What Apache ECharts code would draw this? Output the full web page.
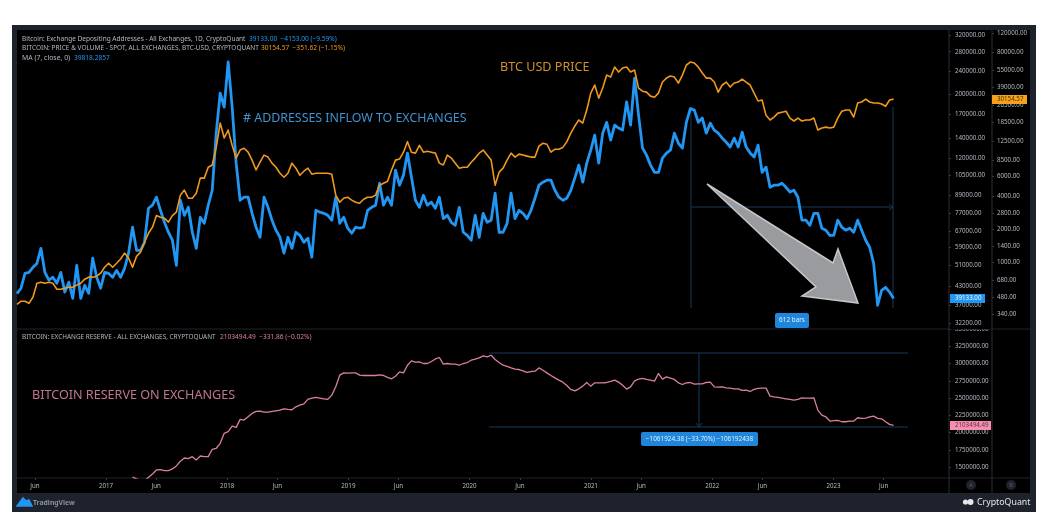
<!DOCTYPE html>
<html lang="en">

<head>
    <meta charset="UTF-8">
    <title>Bitcoin exchange addresses, price and reserve</title>
    <script src="https://cdn.jsdelivr.net/npm/echarts@6/dist/echarts.min.js"></script>
    <style>
        html, body { margin: 0; padding: 0; background: #fff; }
        /* the source is a soft, downscaled screenshot */
        #main { filter: blur(0.4px); }
    </style>
</head>

<body>
    <div id="main" style="width: 1053px;height:526px;"></div>
    <script type="text/javascript">
        // one sample every 12 days from the first bar on the left
        const firstDate = '2016-04-08';
        const lastDate = '2023-12-15';
        const stepDays = 12;
        const reserveOffset = 29; // reserve line only comes into view here

        const addresses = [
            40700, 42500, 47800, 48200, 50200, 51800, 58400, 48200, 45300, 46400, 44200, 48200, 41200, 44600, 39200, 51000, 39200, 43500, 40800, 54000,
            46400, 42500, 48200, 47800, 46400, 49000, 46400, 49800, 56200, 69100, 57500, 57500, 61300, 80400, 82400, 87800, 79100, 71900, 66400, 62300,
            51000, 85700, 76000, 81000, 66400, 58400, 74800, 71300, 82400, 92800, 146300, 201400, 180000, 258000, 180000, 115200, 85700, 87800, 87800, 77200,
            69100, 63800, 87800, 81000, 73100, 67500, 63800, 56200, 63800, 58400, 66400, 64800, 61300, 63300, 54400, 79100, 77900, 77200, 76000, 73100,
            87800, 71300, 74800, 68600, 65900, 69100, 68600, 69100, 79100, 81000, 82400, 98200, 82400, 87800, 82400, 108900, 96600, 104700, 124800, 103000,
            85700, 81000, 89200, 82400, 84400, 80400, 87800, 74000, 76000, 71900, 70200, 81000, 66400, 64800, 62300, 76000, 63800, 77200, 71900, 73100,
            90700, 66400, 66400, 71300, 90700, 74000, 79100, 77200, 74000, 79100, 87100, 96600, 99000, 100600, 100600, 92800, 87800, 85700, 87100, 92800,
            102200, 113400, 99000, 115200, 127800, 144000, 115200, 146300, 159500, 138400, 156000, 152300, 149900, 187800, 156000, 226900, 168900, 129900, 122800, 113400,
            107100, 107100, 120000, 124800, 127800, 146300, 135000, 129900, 159500, 178000, 175800, 159500, 165000, 146300, 158500, 149900, 146300, 140600, 136100, 131000,
            140600, 131000, 147500, 131000, 124800, 121000, 133000, 107100, 111600, 95000, 96600, 96600, 98200, 95000, 91500, 92800, 87800, 73100, 73100, 70200,
            77200, 77200, 68600, 67500, 64800, 64800, 73100, 69100, 67500, 68600, 66400, 73100, 67500, 62300, 58900, 51800, 37100, 41800, 42800, 41200,
            39133
        ];

        const price = [
            415, 443, 443, 424, 481, 645, 659, 645, 659, 645, 569, 569, 581, 594, 594, 620, 645, 702, 732, 732,
            747, 795, 901, 980, 901, 980, 1070, 1210, 1090, 901, 1130, 1235, 1520, 1830, 2080, 2650, 2560, 2510, 2310, 2650,
            2850, 4060, 4510, 3810, 3810, 4230, 5790, 5790, 7270, 7620, 11000, 18300, 13400, 15800, 11500, 8800, 10400, 10800, 9960, 8440,
            6870, 8080, 9370, 8990, 7920, 7270, 6420, 5900, 6420, 7920, 7130, 6150, 6690, 7130, 6290, 6420, 6420, 6420, 6420, 6290,
            4060, 3500, 3810, 3890, 3660, 3500, 3430, 3730, 3890, 3890, 4060, 5000, 5210, 5430, 6870, 8440, 8620, 9960, 12400, 9960,
            9760, 11500, 9960, 10150, 9960, 9760, 7920, 7620, 9370, 8800, 7920, 7130, 7270, 7270, 8080, 8800, 9760, 10400, 9370, 8440,
            5000, 6560, 7130, 8440, 9760, 8990, 9560, 9370, 9170, 8990, 8990, 11300, 12000, 11750, 9960, 10600, 10600, 11000, 12400, 14800,
            17200, 19500, 18300, 24000, 34200, 40500, 30800, 38000, 49800, 47800, 58900, 53100, 57700, 58900, 53100, 55400, 38000, 35600, 34900, 32100,
            31400, 34200, 43100, 46800, 48800, 47800, 42200, 49800, 61500, 65400, 64100, 58900, 52000, 46800, 46800, 43100, 34900, 40500, 43100, 38800,
            42200, 43100, 45900, 43100, 40500, 34200, 29000, 29600, 21500, 19500, 20700, 22500, 22950, 23400, 20300, 19100, 20300, 19100, 19500, 19500,
            20300, 15800, 16500, 16800, 16500, 16800, 20300, 23400, 24000, 24000, 20700, 27800, 28400, 30200, 28400, 27800, 27800, 27200, 26000, 29600,
            30154.57
        ];

        const reserve = [
            1352600, 1328000, 1300000, 1300000, 1352600, 1400000, 1458000, 1462000, 1448000, 1448000, 1472000, 1516000, 1584000, 1631000, 1621000, 1650000, 1603000, 1660000, 1650000, 1650000,
            1757000, 1772000, 1844000, 1988000, 2012000, 2094000, 2075000, 2191000, 2181000, 2228000, 2277000, 2306000, 2311000, 2296000, 2296000, 2306000, 2315000, 2325000, 2344000, 2335000,
            2330000, 2373000, 2397000, 2416000, 2480000, 2499000, 2509000, 2499000, 2489000, 2480000, 2542000, 2662000, 2831000, 2864000, 2860000, 2864000, 2864000, 2831000, 2826000, 2826000,
            2826000, 2826000, 2836000, 2826000, 2798000, 2778000, 2816000, 2879000, 2864000, 2975000, 3038000, 3019000, 3023000, 3000000, 3000000, 3029000, 3066000, 3087000, 2990000, 3000000,
            2990000, 2990000, 2975000, 3000000, 3014000, 3048000, 3062000, 3081000, 3110000, 3095000, 3120000, 3058000, 3014000, 2975000, 2957000, 2936000, 2918000, 2913000, 2893000, 2870000,
            2884000, 2889000, 2936000, 2903000, 2864000, 2826000, 2792000, 2759000, 2730000, 2682000, 2624000, 2604000, 2633000, 2672000, 2725000, 2672000, 2720000, 2720000, 2720000, 2725000,
            2740000, 2759000, 2730000, 2686000, 2629000, 2662000, 2749000, 2773000, 2783000, 2769000, 2759000, 2744000, 2855000, 2773000, 2806000, 2788000, 2769000, 2720000, 2696000, 2720000,
            2725000, 2701000, 2705000, 2705000, 2725000, 2730000, 2662000, 2658000, 2662000, 2648000, 2643000, 2633000, 2633000, 2610000, 2614000, 2595000, 2624000, 2639000, 2643000, 2643000,
            2527000, 2517000, 2509000, 2499000, 2489000, 2480000, 2470000, 2480000, 2503000, 2499000, 2499000, 2503000, 2325000, 2253000, 2228000, 2166000, 2171000, 2176000, 2156000, 2156000,
            2166000, 2166000, 2214000, 2205000, 2210000, 2228000, 2238000, 2205000, 2199000, 2156000, 2118000, 2103494.49
        ];

        const timeTicks = ['2016-06-01', '2017-01-01', '2017-06-01', '2018-01-01', '2018-06-01', '2019-01-01', '2019-06-01',
            '2020-01-01', '2020-06-01', '2021-01-01', '2021-06-01', '2022-01-01', '2022-06-01', '2023-01-01', '2023-06-01'];
        const addressTicks = [320000, 280000, 240000, 200000, 170000, 140000, 120000, 105000, 89000, 77000, 67000, 59000, 51000, 43000, 37000, 32200];
        const priceTicks = [120000, 80000, 55000, 39000, 26500, 18500, 12500, 8500, 6000, 4000, 2800, 2000, 1400, 1000, 680, 480, 340];
        const reserveTicks = [3500000, 3250000, 3000000, 2750000, 2500000, 2250000, 2000000, 1750000, 1500000];

        const colors = { blue: '#2196f3', orange: '#f0991c', pink: '#d9809f', label: '#b4b8c2', dim: '#2a2e39', measure: '#123a5c' };

        const toMs = s => new Date(s + 'T00:00:00Z').getTime();
        const dateAt = i => toMs(firstDate) + i * stepDays * 86400000;
        const pairs = (values, offset) => values.map((v, i) => [dateAt(i + offset), v]);

        const myChartDom = echarts.init(document.getElementById('main'));

        function text(x, y, str, color, size, extra) {
            return {
                type: 'text', x: x, y: y, z: 20, silent: true,
                style: Object.assign({ text: str, fill: color, font: size + 'px "Noto Sans"', textVerticalAlign: 'middle' }, extra || {})
            };
        }
        function rect(x, y, w, h, fill, z, r) {
            return { type: 'rect', z: z, silent: true, shape: { x: x, y: y, width: w, height: h, r: r || 0 }, style: { fill: fill } };
        }
        function seg(x1, y1, x2, y2, color, z) {
            return { type: 'line', z: z === undefined ? 1 : z, silent: true, shape: { x1: x1, y1: y1, x2: x2, y2: y2 }, style: { stroke: color, lineWidth: 1 } };
        }
        function poly(points, fill, stroke, z) {
            return { type: 'polygon', z: z, silent: true, shape: { points: points }, style: { fill: fill, stroke: stroke, lineWidth: 1.5 } };
        }
        function badge(x, y, w, h, str) {
            return [
                rect(x, y, w, h, '#1f86dc', 19, 2),
                text(x + w / 2, y + h / 2, str, '#dfeefa', 6.4, { textAlign: 'center' })
            ];
        }

        const graphicElements = [
            // frame and panes
            rect(12, 25, 1024, 487, '#1e222d', -2),
            rect(17, 30, 1013, 463, '#000', -1),
            seg(17, 329, 1030, 329, '#20232c'),
            seg(17, 478, 1030, 478, '#20232c'),
            seg(949, 30, 949, 493, colors.dim),
            seg(992, 30, 992, 493, colors.dim),
            rect(950, 326, 41, 3, '#000', 5),

            // measure tool, upper pane
            seg(691, 107, 691, 308, colors.measure, 3),
            seg(893, 107, 893, 308, colors.measure, 3),
            seg(691, 207, 893, 207, colors.measure, 3),
            seg(889, 204, 893, 207, colors.measure, 3),
            seg(889, 210, 893, 207, colors.measure, 3),
            ...badge(775, 313, 34, 15, '612 bars'),

            // measure tool, lower pane
            seg(489, 353, 908, 353, colors.measure, 3),
            seg(489, 427, 908, 427, colors.measure, 3),
            seg(699, 353, 699, 427, colors.measure, 3),
            seg(696, 423, 699, 427, colors.measure, 3),
            seg(702, 423, 699, 427, colors.measure, 3),
            ...badge(641, 432, 117, 14, '\u22121061924.38 (\u221233.70%) \u2212106192438'),

            // hand drawn arrow
            poly([[707, 184], [833, 263], [838, 249], [858, 303], [802, 296], [816, 287]], '#9a9b9e', '#c4c5c8', 10),

            // annotations
            text(500, 67, 'BTC USD PRICE', '#d08f2e', 12.6),
            text(243, 118, '# ADDRESSES INFLOW TO EXCHANGES', '#3f93d0', 12.4),
            text(32, 395, 'BITCOIN RESERVE ON EXCHANGES', '#c07692', 12.6),

            // legends
            text(22, 39, 'Bitcoin: Exchange Depositing Addresses - All Exchanges, 1D, CryptoQuant', colors.label, 6.5),
            text(249, 39, '39133.00  \u22124153.00 (\u22129.59%)', colors.blue, 6.6),
            text(22, 48.5, 'BITCOIN: PRICE & VOLUME - SPOT, ALL EXCHANGES, BTC-USD, CRYPTOQUANT', colors.label, 6.5),
            text(261, 48.5, '30154.57  \u2212351.62 (\u22121.15%)', colors.orange, 6.6),
            text(22, 58, 'MA (7, close, 0)', colors.label, 6.9),
            text(74, 58, '39818.2857', colors.blue, 6.6),
            text(22, 337, 'BITCOIN: EXCHANGE RESERVE - ALL EXCHANGES, CRYPTOQUANT', colors.label, 6.4),
            text(220, 337, '2103494.49  \u2212331.86 (\u22120.02%)', colors.pink, 6.6),

            // last value tags
            rect(992, 95, 35, 9, '#f7a21b', 18),
            text(997, 99.5, '30154.57', '#4a3200', 6.2),
            rect(950, 294, 35, 9, colors.blue, 18),
            text(955, 298.5, '39133.00', '#e8f4fe', 6.2),
            rect(950, 421, 41, 9, '#f48fb1', 18),
            text(955, 425.5, '2103494.49', '#6b2f45', 6.2),

            // scale buttons
            { type: 'circle', z: 3, silent: true, shape: { cx: 971, cy: 485, r: 5 }, style: { fill: '#20232c' } },
            { type: 'circle', z: 3, silent: true, shape: { cx: 1011, cy: 485, r: 5 }, style: { fill: '#20232c' } },
            text(971, 485, 'A', '#555a66', 5.5, { textAlign: 'center' }),
            text(1011, 485, 'B', '#555a66', 5.5, { textAlign: 'center' }),

            // footer
            poly([[17, 506], [23, 498], [26, 501], [29, 500], [32, 506]], '#2196f3', '#2196f3', 20),
            text(33, 503, 'TradingView', '#8c909b', 6.8, { font: 'bold 6.8px "Noto Sans"' }),
            { type: 'circle', z: 20, silent: true, shape: { cx: 965.5, cy: 502, r: 2.6 }, style: { fill: '#e8e8e8' } },
            { type: 'circle', z: 20, silent: true, shape: { cx: 970.5, cy: 502, r: 3 }, style: { fill: '#e8e8e8' } },
            text(977, 502, 'CryptoQuant', '#e6e7ea', 8.8)
        ];

        function valueAxis(gridIndex, ticks, min, max, offset, margin, log) {
            return {
                type: log ? 'log' : 'value',
                gridIndex: gridIndex,
                position: 'right',
                offset: offset,
                min: min,
                max: max,
                axisLine: { show: false },
                splitLine: { show: false },
                minorTick: { show: false },
                axisTick: { show: true, length: 2, customValues: ticks, lineStyle: { color: '#3a3e49' } },
                axisLabel: {
                    show: true, customValues: ticks, margin: margin, color: colors.label, fontSize: 6.2,
                    fontFamily: 'Noto Sans', hideOverlap: false, showMinLabel: true, showMaxLabel: true,
                    formatter: value => Number(value).toFixed(2)
                }
            };
        }

        // dates are kept as milliseconds on a plain value axis so the ticks can be placed by hand
        function timeAxis(gridIndex, showLabels) {
            const ticks = timeTicks.map(toMs);
            return {
                type: 'value',
                gridIndex: gridIndex,
                min: toMs(firstDate),
                max: toMs(lastDate),
                axisLine: { show: false },
                splitLine: { show: false },
                axisTick: { show: showLabels, length: 2, customValues: ticks, lineStyle: { color: '#3a3e49' } },
                axisLabel: {
                    show: showLabels, customValues: ticks, margin: 5, color: colors.label, fontSize: 6.2,
                    fontFamily: 'Noto Sans', hideOverlap: false,
                    formatter: value => {
                        const d = new Date(value);
                        return d.getUTCMonth() === 0 ? String(d.getUTCFullYear()) : 'Jun';
                    }
                }
            };
        }

        const option = {
            animation: false,
            backgroundColor: '#fff',
            grid: [
                { left: 17, right: 104, top: 30, height: 299 },
                { left: 17, right: 104, top: 329, height: 149 }
            ],
            xAxis: [timeAxis(0, false), timeAxis(1, true)],
            yAxis: [
                valueAxis(0, addressTicks, 30700, 333000, 0, 6, true),
                valueAxis(0, priceTicks, 248, 127750, 43, 5, true),
                valueAxis(1, reserveTicks, 1341000, 3500000, 0, 6, false)
            ],
            series: [
                {
                    name: 'Addresses', type: 'line', xAxisIndex: 0, yAxisIndex: 0, z: 3,
                    symbol: 'none', clip: true,
                    lineStyle: { color: colors.blue, width: 2.8, join: 'round' },
                    data: pairs(addresses, 0)
                },
                {
                    name: 'Price', type: 'line', xAxisIndex: 0, yAxisIndex: 1, z: 4,
                    symbol: 'none', clip: true,
                    lineStyle: { color: colors.orange, width: 1.6, join: 'round' },
                    data: pairs(price, 0)
                },
                {
                    name: 'Reserve', type: 'line', xAxisIndex: 1, yAxisIndex: 2, z: 3,
                    symbol: 'none', clip: true,
                    lineStyle: { color: colors.pink, width: 1.3, join: 'round' },
                    data: pairs(reserve, reserveOffset)
                }
            ],
            graphic: { elements: graphicElements }
        };
        myChartDom.setOption(option);
    </script>
</body>

</html>
